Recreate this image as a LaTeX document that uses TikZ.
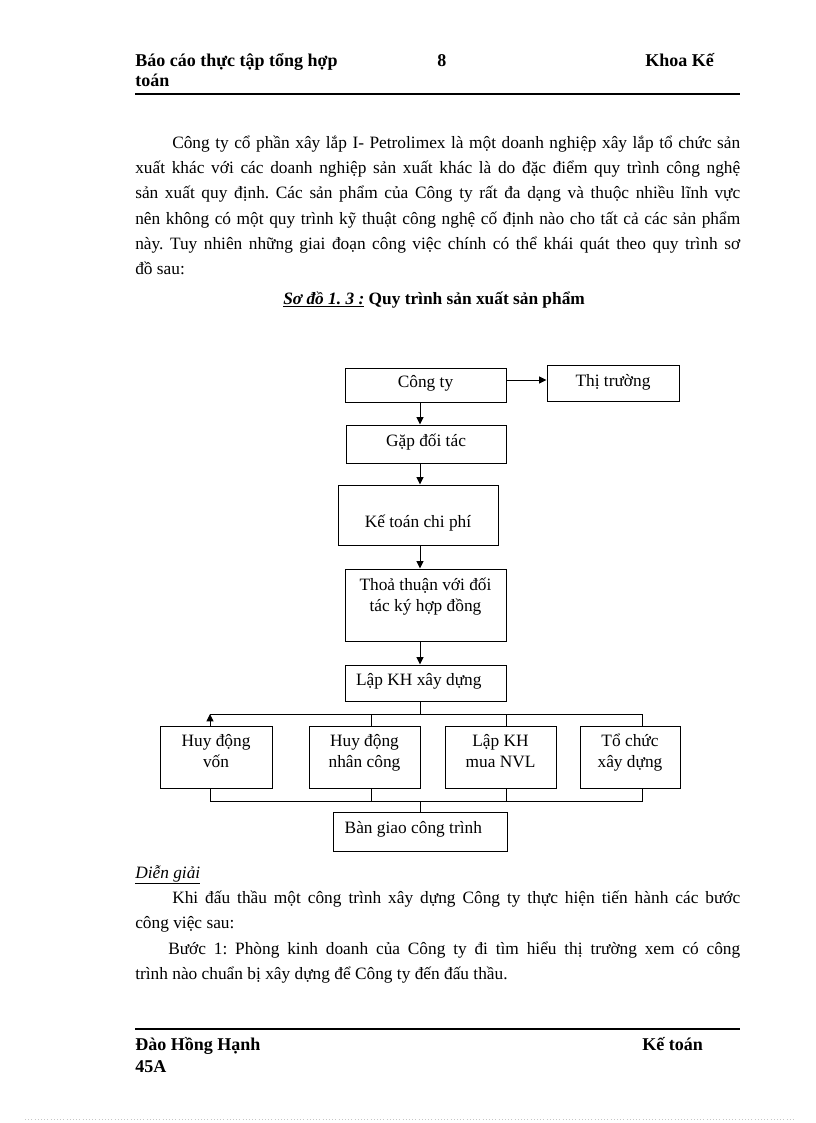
\documentclass[tikz,border=0pt]{standalone}
\usepackage{fontspec}
\setmainfont{Liberation Serif}
\usetikzlibrary{arrows.meta}
\frenchspacing
\newcommand{\bxt}[4]{\parbox[b][\dimexpr #2pt*3/4\relax][t]{\dimexpr #1pt*3/4\relax}{\centering\rule{0pt}{\dimexpr #3pt*3/4\relax}#4\par}}
\begin{document}
\begin{tikzpicture}[x=0.75pt,y=-0.75pt,
  every node/.style={font=\fontsize{13}{15.75}\selectfont},
  box/.style={draw, line width=0.75pt, inner sep=0pt},
  arr/.style={-{Triangle[length=5.5pt,width=5.2pt]}, line width=0.75pt},
  ln/.style={line width=0.75pt},
  txt/.style={inner sep=0pt, anchor=base west},
  hb/.style={txt, font=\fontsize{13.5}{16}\selectfont\bfseries}]
\useasboundingbox (0,0) rectangle (816,1123);
% header
\node[hb] (h1) at (135,67) {Báo cáo thực tập tổng hợp};
\node[hb] (h2) at (135,87) {toán};
\node[hb] (h3) at (437,67) {8};
\node[hb] (h4) at (645,67) {Khoa Kế};
\draw[line width=1.6pt] (135,94) -- (740,94);
% paragraph
\node[txt] (p1) at (172,149) {\makebox[426pt][s]{Công ty cổ phần xây lắp I- Petrolimex là một doanh nghiệp xây lắp tổ chức sản}};
\node[txt] (p2) at (135,174) {\makebox[453.75pt][s]{xuất khác với các doanh nghiệp sản xuất khác là do đặc điểm quy trình công nghệ}};
\node[txt] (p3) at (135,199) {\makebox[453.75pt][s]{sản xuất quy định. Các sản phẩm của Công ty rất đa dạng và thuộc nhiều lĩnh vực}};
\node[txt] (p4) at (135,224) {\makebox[453.75pt][s]{nên không có một quy trình kỹ thuật công nghệ cố định nào cho tất cả các sản phẩm}};
\node[txt] (p5) at (135,249) {\makebox[453.75pt][s]{này. Tuy nhiên những giai đoạn công việc chính có thể khái quát theo quy trình sơ}};
\node[txt] (p6) at (135,274) {đồ sau:};
\node[txt, font=\fontsize{13}{15.75}\selectfont\bfseries] (title) at (283,304) {\underline{\textit{Sơ đồ 1. 3 :}} Quy trình sản xuất sản phẩm};
% diagram
\node[box] (cty) at (425.5,385) {\bxt{161}{34}{19}{Công ty}};
\node[box] (thi) at (613,383) {\bxt{132}{36}{21}{Thị trường}};
\node[box] (gap) at (426,444) {\bxt{160}{38}{21}{Gặp đối tác}};
\node[box] (ketoan) at (418,515) {\bxt{160}{60}{42}{Kế toán chi phí}};
\node[box] (tt) at (425.5,605) {\bxt{161}{72}{21}{Thoả thuận với đối\\tác ký hợp đồng}};
\node[box] (lap) at (425.5,683) {\bxt{161}{36}{20}{Lập KH xây dựng\hspace*{10pt}}};
\node[box] (hdv) at (216,757) {\bxt{112}{62}{20}{Huy động\\vốn}};
\node[box] (hdnc) at (364.5,757) {\bxt{111}{62}{20}{Huy động\\nhân công}};
\node[box] (lkh) at (500.5,757) {\bxt{111}{62}{20}{Lập KH\\mua NVL}};
\node[box] (tcxd) at (630,757) {\bxt{100}{62}{20}{Tổ chức\\xây dựng}};
\node[box] (bg) at (420,831.5) {\bxt{174}{39}{21}{Bàn giao công trình\hspace*{10pt}}};
\coordinate (ax) at (420,0);
\coordinate (ry) at (0,380);
\coordinate (bt) at (0,714);
\coordinate (bb) at (0,801);
\coordinate (x1) at (210,0);
\coordinate (x2) at (371,0);
\coordinate (x3) at (506,0);
\coordinate (x4) at (642,0);
\draw[arr] (cty.east |- ry) -- (thi.west |- ry);
\draw[arr] (cty.south -| ax) -- (gap.north -| ax);
\draw[arr] (gap.south -| ax) -- (ketoan.north -| ax);
\draw[arr] (ketoan.south -| ax) -- (tt.north -| ax);
\draw[arr] (tt.south -| ax) -- (lap.north -| ax);
\draw[ln] (lap.south -| ax) -- (ax |- bt);
\draw[ln] (x1 |- bt) -- (x4 |- bt);
\draw[arr] (hdv.north -| x1) -- (x1 |- bt);
\draw[ln] (x2 |- bt) -- (hdnc.north -| x2);
\draw[ln] (x3 |- bt) -- (lkh.north -| x3);
\draw[ln] (x4 |- bt) -- (tcxd.north -| x4);
\draw[ln] (hdv.south -| x1) -- (x1 |- bb) -- (x4 |- bb) -- (tcxd.south -| x4);
\draw[ln] (hdnc.south -| x2) -- (x2 |- bb);
\draw[ln] (lkh.south -| x3) -- (x3 |- bb);
\draw[ln] (ax |- bb) -- (bg.north -| ax);
% explanation
\node[txt] (d0) at (135,878) {\underline{\textit{Diễn giải}}};
\node[txt] (d1) at (172,903) {\makebox[426pt][s]{Khi đấu thầu một công trình xây dựng Công ty thực hiện tiến hành các bước}};
\node[txt] (d2) at (135,928) {công việc sau:};
\node[txt] (d3) at (168,954) {\makebox[429pt][s]{Bước 1: Phòng kinh doanh của Công ty đi tìm hiểu thị trường xem có công}};
\node[txt] (d4) at (135,979) {trình nào chuẩn bị xây dựng để Công ty đến đấu thầu.};
% footer
\draw[line width=1.6pt] (135,1029) -- (740,1029);
\node[hb] (f1) at (135,1050) {Đào Hồng Hạnh};
\node[hb] (f2) at (642,1050) {Kế toán};
\node[hb] (f3) at (135,1072) {45A};
\draw[gray!45, dotted] (25,1119) -- (796,1119);
\end{tikzpicture}
\end{document}
